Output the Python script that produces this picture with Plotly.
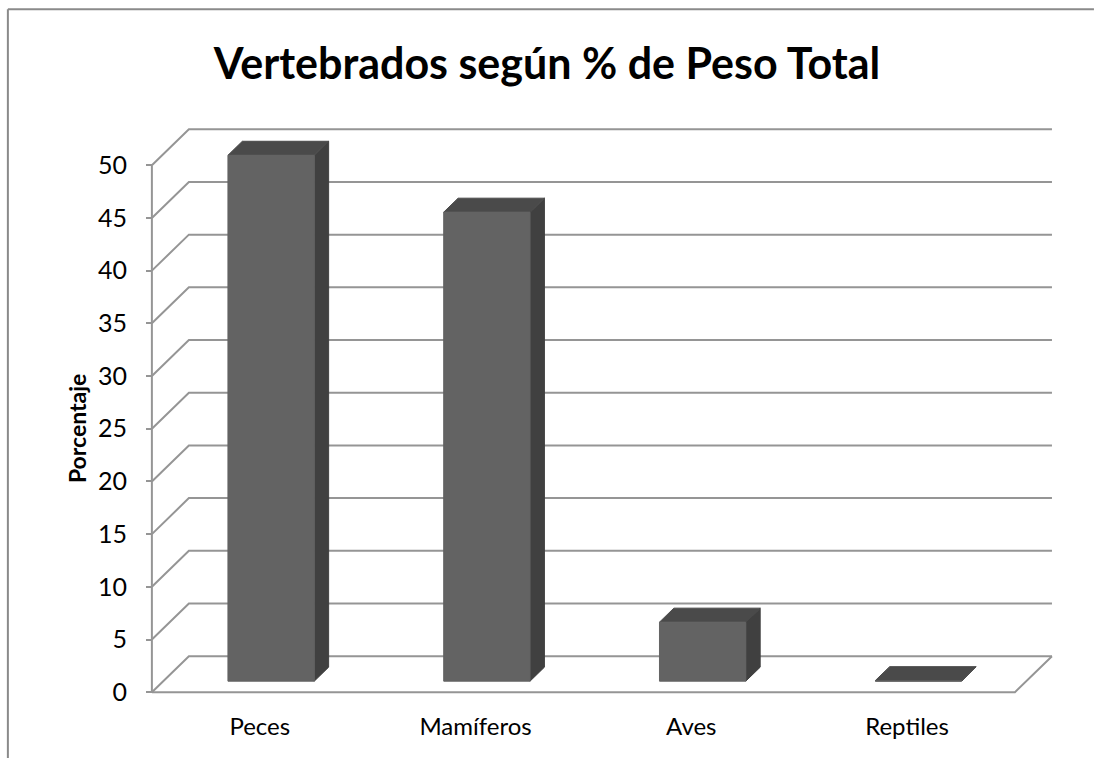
import plotly.graph_objects as go

# ---- data ----
categories = ["Peces", "Mamíferos", "Aves", "Reptiles"]
values = [49.9, 44.5, 5.6, 0.05]
y_ticks = [0, 5, 10, 15, 20, 25, 30, 35, 40, 45, 50]
title_text = "Vertebrados según % de Peso Total"
y_title = "Porcentaje"

# ---- layout constants ----
W, H = 1094, 758
X0PX, XSCALE = 152.0, 215.75      # pixel of x=0, px per category unit
Y0PX, YSCALE = 692.0, 10.54       # pixel of y=0, px per value unit
DX = 37.0 / XSCALE                # oblique depth offset (x units)
DY = 36.0 / YSCALE                # oblique depth offset (y units)
XMIN, XMAX = -0.12, 4.32
YMIN, YMAX = -1.5, 56.0

ml = X0PX + XMIN * XSCALE
mr = W - (X0PX + XMAX * XSCALE)
mt = Y0PX - YMAX * YSCALE
mb = H - (Y0PX - YMIN * YSCALE)
pw = W - ml - mr
ph = H - mt - mb


def px2paper_x(px):
    return (px - ml) / pw


def py2paper_y(py):
    return (H - mb - py) / ph


GRID = "#959595"
FRONT = "#636363"
SIDE = "#404040"
TOP = "#4a4a4a"
FONT = "Lato"

n = len(categories)
fig = go.Figure()

# grid: side-wall diagonals + back-wall lines
gx, gy = [], []
for v in y_ticks:
    gx += [0, DX, n + DX, None]
    gy += [v, v + DY, v + DY, None]
# floor front edge + right edge, front vertical axis
gx += [0, n, n + DX, None, 0, 0]
gy += [0, 0, DY, None, 0, y_ticks[-1]]
fig.add_trace(go.Scatter(x=gx, y=gy, mode="lines",
                         line=dict(color=GRID, width=2),
                         hoverinfo="skip", showlegend=False))

# 3D bars
d1, d2 = 0.306, 0.695
bl, br = 0.30, 0.70
for i, (cat, v) in enumerate(zip(categories, values)):
    xl, xr = i + bl, i + br
    front_x = [xl + d1 * DX, xr + d1 * DX, xr + d1 * DX, xl + d1 * DX, xl + d1 * DX]
    front_y = [d1 * DY, d1 * DY, v + d1 * DY, v + d1 * DY, d1 * DY]
    side_x = [xr + d1 * DX, xr + d2 * DX, xr + d2 * DX, xr + d1 * DX, xr + d1 * DX]
    side_y = [d1 * DY, d2 * DY, v + d2 * DY, v + d1 * DY, d1 * DY]
    top_x = [xl + d1 * DX, xr + d1 * DX, xr + d2 * DX, xl + d2 * DX, xl + d1 * DX]
    top_y = [v + d1 * DY, v + d1 * DY, v + d2 * DY, v + d2 * DY, v + d1 * DY]
    for fx, fy, col in ((side_x, side_y, SIDE), (top_x, top_y, TOP), (front_x, front_y, FRONT)):
        fig.add_trace(go.Scatter(x=fx, y=fy, mode="lines", fill="toself",
                                 fillcolor=col, line=dict(color=col, width=1),
                                 hoverinfo="skip", showlegend=False))

frame = dict(color="#8a8a8a", width=2)
fig.update_layout(
    width=W, height=H, autosize=False,
    margin=dict(l=ml, r=mr, t=mt, b=mb, autoexpand=False),
    paper_bgcolor="white", plot_bgcolor="rgba(0,0,0,0)",
    font=dict(family=FONT, color="black"),
    title=dict(text="<b>" + title_text + "</b>", x=0.5, xref="container",
               xanchor="center", y=1 - 64 / H, yref="container", yanchor="middle",
               font=dict(family=FONT, size=43, color="black")),
    xaxis=dict(range=[XMIN, XMAX], anchor="free",
               position=(0 - YMIN) / (YMAX - YMIN),
               tickvals=[i + 0.5 for i in range(n)], ticktext=categories,
               ticks="", showline=False, showgrid=False, zeroline=False,
               tickfont=dict(family=FONT, size=24, color="black"),
               ticklabelstandoff=18),
    yaxis=dict(range=[YMIN, YMAX], anchor="free",
               position=(0 - XMIN) / (XMAX - XMIN),
               tickvals=y_ticks, ticks="outside", ticklen=6, tickwidth=2,
               tickcolor=GRID, showline=False, showgrid=False, zeroline=False,
               tickfont=dict(family=FONT, size=25, color="black"),
               ticklabelstandoff=14),
    annotations=[dict(text="<b>" + y_title + "</b>", textangle=-90,
                      xref="paper", yref="paper",
                      x=px2paper_x(77), y=py2paper_y(428),
                      xanchor="center", yanchor="middle", showarrow=False,
                      font=dict(family=FONT, size=23, color="black"))],
    shapes=[
        dict(type="line", xref="paper", yref="paper",
             x0=px2paper_x(8), x1=px2paper_x(W),
             y0=py2paper_y(9), y1=py2paper_y(9), line=frame, layer="below"),
        dict(type="line", xref="paper", yref="paper",
             x0=px2paper_x(8), x1=px2paper_x(8),
             y0=py2paper_y(9), y1=py2paper_y(H), line=frame, layer="below"),
    ],
)

fig.write_html("out.html",
               config={"displayModeBar": False},
               post_script="document.body.style.margin='0';document.body.style.overflow='hidden';")
